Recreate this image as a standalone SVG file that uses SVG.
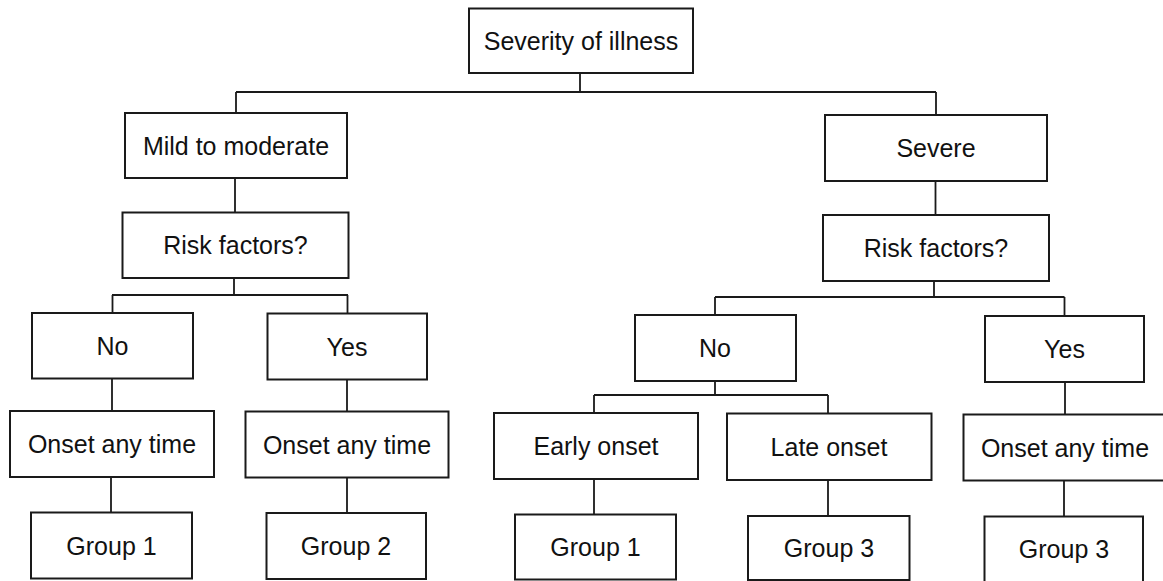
<svg xmlns="http://www.w3.org/2000/svg" width="1163" height="581" viewBox="0 0 1163 581">
<style>
.box{fill:#fff;stroke:#1a1a1a;stroke-width:2}
.lbl{font-family:"Liberation Sans",Arial,Helvetica,sans-serif;font-size:25px;fill:#111;text-anchor:middle}
.ln{fill:none;stroke:#1a1a1a;stroke-width:1.8}
</style>
<rect width="1163" height="581" fill="#fff"/>
<g id="connectors">
<path class="ln" d="M580 73V92M236 92H936M236 92V113M936 92V115"/>
<path class="ln" d="M235 178V212.5M935.5 181V215"/>
<path class="ln" d="M234 278V295M112 295H348M112.5 295V313M347.5 295V313.5"/>
<path class="ln" d="M112 378.5V411M347 379.5V411.5M111 477V512.5M347 477.5V513"/>
<path class="ln" d="M934 281V297M715 297H1064.5M715 297V315M1064.5 297V316"/>
<path class="ln" d="M715 381V395M594 395H828M594 395V413M828 395V413.5"/>
<path class="ln" d="M594 479V514.5M828 480V516M1065 382V414.5M1064 480.5V516.5"/>
</g>
<g id="n-root"><rect class="box" x="469" y="8.5" width="224" height="64.5"/><text class="lbl" x="581" y="50">Severity of illness</text></g>
<g id="n-mild"><rect class="box" x="125" y="113" width="222" height="65"/><text class="lbl" x="236" y="154.5">Mild to moderate</text></g>
<g id="n-riskL"><rect class="box" x="122.5" y="212.5" width="226" height="65.5"/><text class="lbl" x="235.5" y="254">Risk factors?</text></g>
<g id="n-severe"><rect class="box" x="825" y="115" width="222" height="66"/><text class="lbl" x="936" y="157">Severe</text></g>
<g id="n-riskR"><rect class="box" x="823" y="215" width="226" height="66"/><text class="lbl" x="936" y="257">Risk factors?</text></g>
<g id="n-noL"><rect class="box" x="32" y="313" width="161" height="65.5"/><text class="lbl" x="112.5" y="354.5">No</text></g>
<g id="n-yesL"><rect class="box" x="267.5" y="313.5" width="159.5" height="66"/><text class="lbl" x="347" y="355.5">Yes</text></g>
<g id="n-onsetL1"><rect class="box" x="10" y="411" width="204" height="66"/><text class="lbl" x="112" y="453">Onset any time</text></g>
<g id="n-onsetL2"><rect class="box" x="245.5" y="411.5" width="203" height="66"/><text class="lbl" x="347" y="453.5">Onset any time</text></g>
<g id="n-group1L"><rect class="box" x="31" y="512.5" width="161" height="66"/><text class="lbl" x="111.5" y="554.5">Group 1</text></g>
<g id="n-group2"><rect class="box" x="266.5" y="513" width="159.5" height="66"/><text class="lbl" x="346" y="555">Group 2</text></g>
<g id="n-noR"><rect class="box" x="635" y="315" width="161" height="66"/><text class="lbl" x="715" y="357">No</text></g>
<g id="n-yesR"><rect class="box" x="985" y="316" width="159" height="66"/><text class="lbl" x="1064.5" y="358">Yes</text></g>
<g id="n-early"><rect class="box" x="494" y="413" width="204" height="66"/><text class="lbl" x="596" y="455">Early onset</text></g>
<g id="n-late"><rect class="box" x="727" y="413.5" width="204.5" height="66.5"/><text class="lbl" x="829" y="455.5">Late onset</text></g>
<g id="n-onsetR"><rect class="box" x="963.5" y="414.5" width="204" height="66"/><text class="lbl" x="1065" y="456.5">Onset any time</text></g>
<g id="n-group1M"><rect class="box" x="515" y="514.5" width="161" height="65"/><text class="lbl" x="595.5" y="556">Group 1</text></g>
<g id="n-group3M"><rect class="box" x="748" y="516" width="161.5" height="64"/><text class="lbl" x="829" y="557">Group 3</text></g>
<g id="n-group3R"><rect class="box" x="984.5" y="516.5" width="158.5" height="68"/><text class="lbl" x="1064" y="557.5">Group 3</text></g>
</svg>
